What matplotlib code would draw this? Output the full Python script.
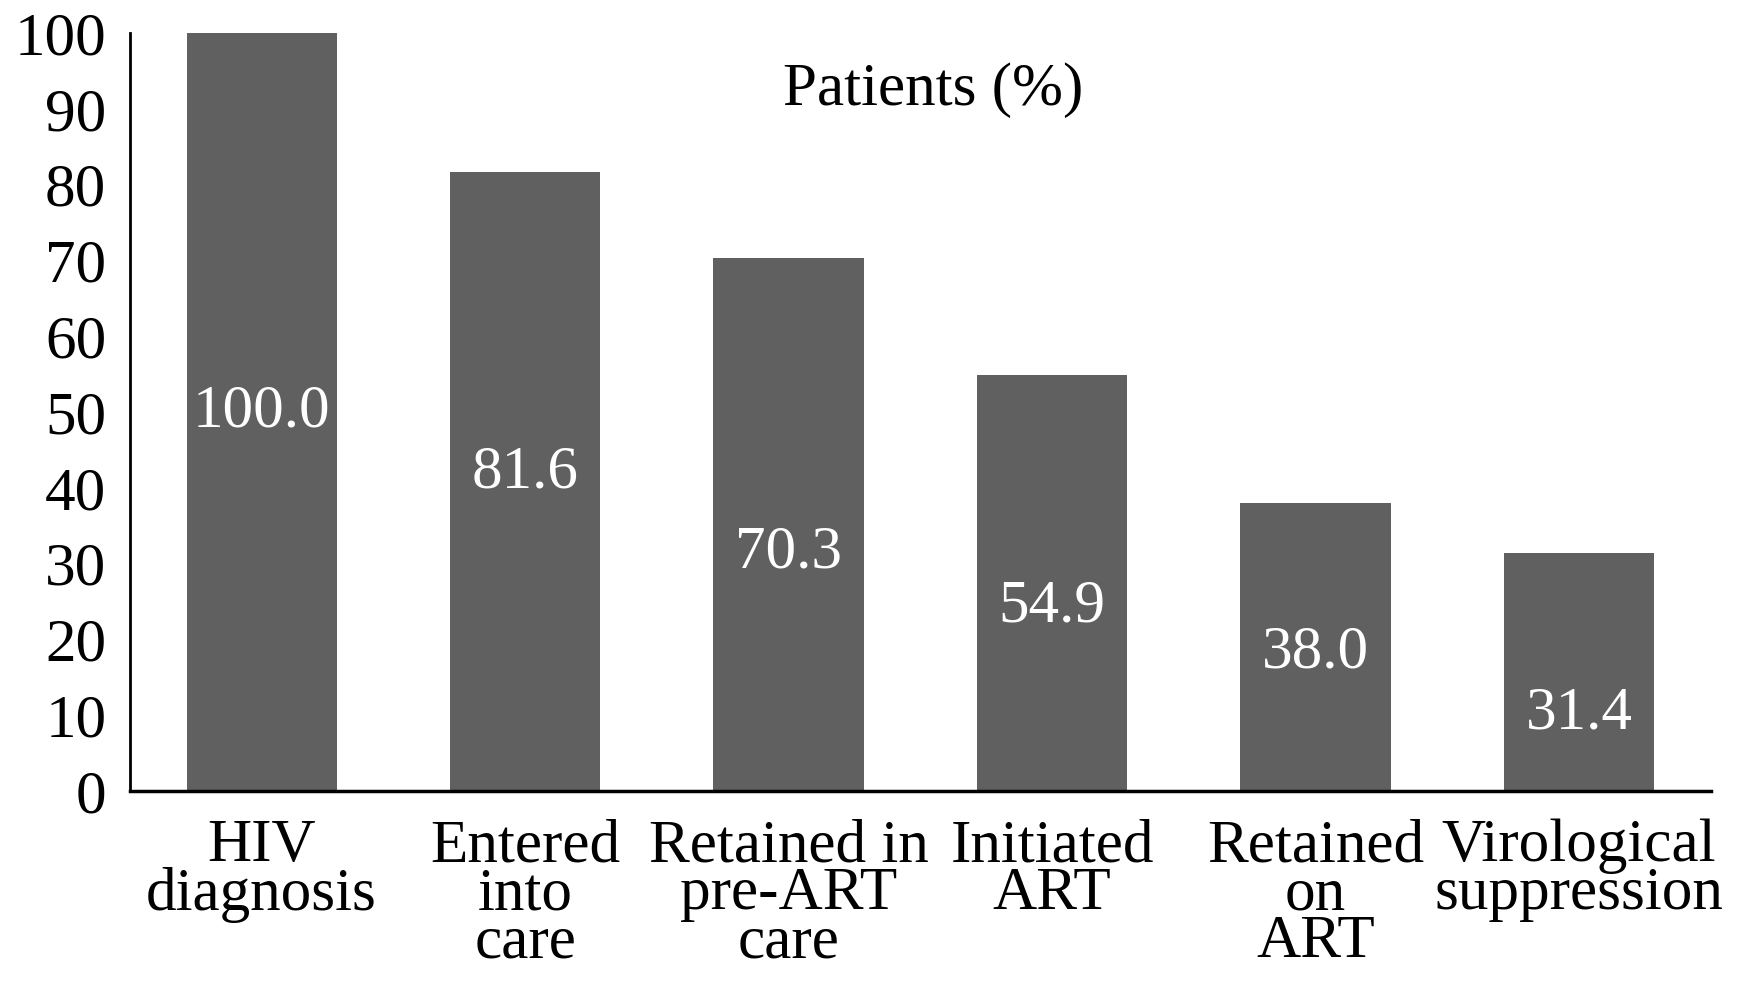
import matplotlib
matplotlib.use("Agg")
import matplotlib.pyplot as plt

categories = ["HIV\ndiagnosis", "Entered\ninto\ncare", "Retained in\npre-ART\ncare",
              "Initiated\nART", "Retained\non\nART", "Virological\nsuppression"]
values = [100.0, 81.6, 70.3, 54.9, 38.0, 31.4]
label_heights = [50.0, 42.0, 31.5, 24.3, 18.3, 10.2]
yticks = list(range(0, 101, 10))

plt.rcParams['font.family'] = ['Liberation Serif', 'DejaVu Serif']

fig = plt.figure(figsize=(17.42, 9.84), dpi=100)
ax = fig.add_axes([0.0746, 0.196, 0.9074, 0.7705])
x = list(range(len(categories)))
ax.bar(x, values, width=0.57, color="#606060", zorder=2)
for xi, v, h in zip(x, values, label_heights):
    ax.text(xi, h, f"{v:.1f}", color="white", ha="center", va="center", fontsize=44)

ax.set_xlim(-0.5, 5.5)
ax.set_ylim(0, 100)
ax.set_yticks(yticks)
ax.set_yticklabels([str(t) for t in yticks], fontsize=44)
ax.set_xticks(x)
ax.set_xticklabels(categories, fontsize=44, linespacing=0.82)
ax.tick_params(axis='y', length=0, pad=17)
ax.tick_params(axis='x', length=0, pad=20)
for s in ["top", "right"]:
    ax.spines[s].set_visible(False)
ax.spines["left"].set_linewidth(2)
ax.spines["bottom"].set_linewidth(2.5)
ax.text(2.55, 92.5, "Patients (%)", ha="center", va="center", fontsize=44)

fig.savefig("out.png", dpi=100)
